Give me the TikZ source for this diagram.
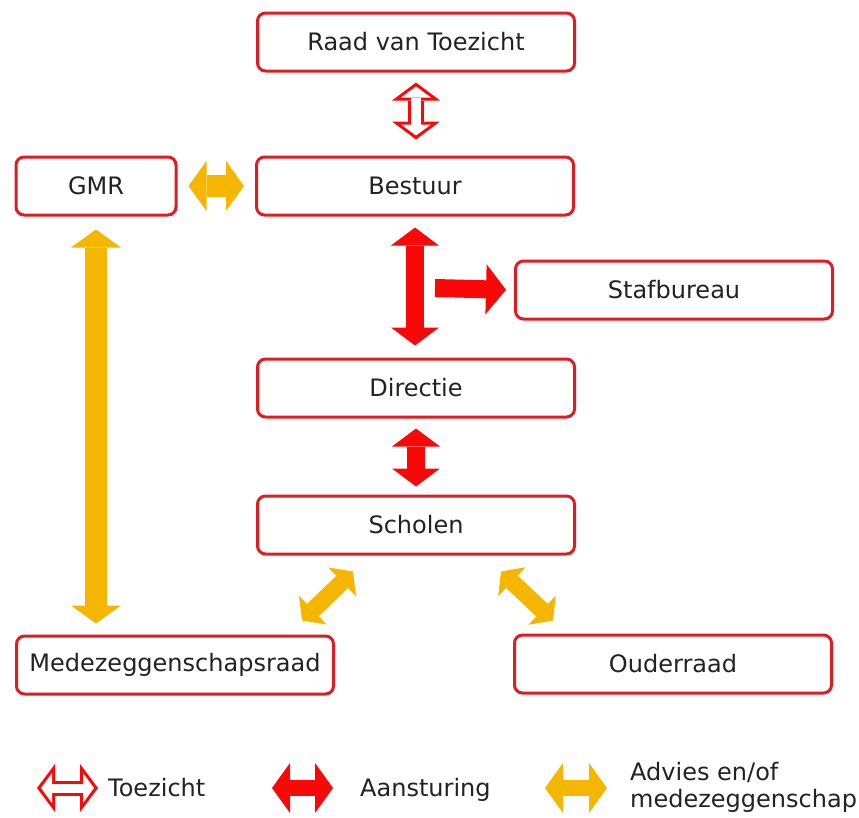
\documentclass[tikz,border=0pt]{standalone}
\usepackage{fontspec}
\setmainfont{DejaVu Sans}
\usetikzlibrary{arrows.meta}
\definecolor{boxred}{RGB}{222,28,36}
\definecolor{arred}{RGB}{250,8,8}
\definecolor{advgold}{RGB}{245,182,0}
\definecolor{txt}{RGB}{34,34,34}
\begin{document}
\begin{tikzpicture}[x=1pt, y=-1pt, every node/.style={font=\fontsize{24}{27}\selectfont, text=txt}]
  \tikzstyle{box}=[draw=boxred,line width=3pt,rounded corners=8pt,minimum width=317pt,minimum height=58pt,fill=white]
  \tikzstyle{toez}=[draw=arred,line width=16pt,{Triangle[length=18pt,width=48pt,line width=0pt]}-{Triangle[length=18pt,width=48pt,line width=0pt]}]
  \tikzstyle{toezin}=[draw=white,line width=10pt,shorten <=4pt,shorten >=4pt,{Triangle[length=11pt,width=30pt,line width=0pt]}-{Triangle[length=11pt,width=30pt,line width=0pt]}]
  \tikzstyle{steer}=[draw=arred,line width=18pt,{Triangle[length=18pt,width=48pt,line width=0pt]}-{Triangle[length=18pt,width=48pt,line width=0pt]}]
  \tikzstyle{adv}=[draw=advgold,line width=22pt,{Triangle[length=18pt,width=50pt,line width=0pt]}-{Triangle[length=18pt,width=50pt,line width=0pt]}]
  \useasboundingbox (0,0) rectangle (859,817);
  % organisation
  \node[box] (rvt) at (416,42) {Raad van Toezicht};
  \node[box] (best) at (415,186) {Bestuur};
  \node[box,minimum width=160pt] (gmr) at (96,186) {GMR};
  \node[box] (staf) at (674,290) {Stafbureau};
  \node[box] (dir) at (416,388) {Directie};
  \node[box] (school) at (416,525) {Scholen};
  \node[box] (mzr) at (175,665) {Medezeggenschapsraad};
  \node[box] (ouder) at (673,664) {Ouderraad};
  \coordinate (hub) at (415,288);
  % connectors
  \draw[toez,shorten <=10pt,shorten >=16pt] (rvt.south) -- (rvt.south |- best.north);
  \draw[toezin,shorten <=14pt,shorten >=20pt] (rvt.south) -- (rvt.south |- best.north);
  \draw[adv,shorten <=11pt,shorten >=11pt] (gmr.east) -- (best.west);
  \draw[steer,shorten <=11pt,shorten >=12pt] (best.south) -- (best.south |- dir.north);
  \draw[draw=arred,line width=18pt,-{Triangle[length=20pt,width=50pt,line width=0pt]},shorten >=8pt] ([xshift=20pt]hub) -- (staf.west);
  \draw[steer,shorten <=10pt,shorten >=8pt] (dir.south) -- (dir.south |- school.north);
  \draw[adv,shorten <=13pt,shorten >=11pt] (gmr.south) -- (gmr.south |- mzr.north);
  \draw[adv,line width=17pt,{Triangle[length=15pt,width=40pt,line width=0pt]}-{Triangle[length=15pt,width=40pt,line width=0pt]}] ([shift={(-63,16)}]school.south) -- ([shift={(-33,-14)}]mzr.north east);
  \draw[adv,line width=17pt,{Triangle[length=15pt,width=40pt,line width=0pt]}-{Triangle[length=15pt,width=40pt,line width=0pt]}] ([shift={(-75,16)}]school.south east) -- ([shift={(40,-13)}]ouder.north west);
  % legend
  \node[anchor=base west,inner sep=0pt] (lgtoez) at (108,796) {Toezicht};
  \node[anchor=base west,inner sep=0pt] (lgsteer) at (360,796) {Aansturing};
  \node[anchor=north west,inner sep=0pt,align=left] (lgadv) at (630,762) {Advies en/of\\medezeggenschap};
  \draw[toez,line width=15pt] (37,788) -- (98,788);
  \draw[toezin,line width=9pt] (37,788) -- (98,788);
  \draw[steer,line width=16pt,{Triangle[length=18pt,width=50pt,line width=0pt]}-{Triangle[length=18pt,width=50pt,line width=0pt]}] (272,788) -- (333,788);
  \draw[adv,line width=16pt] (545,788) -- (607,788);
\end{tikzpicture}
\end{document}
